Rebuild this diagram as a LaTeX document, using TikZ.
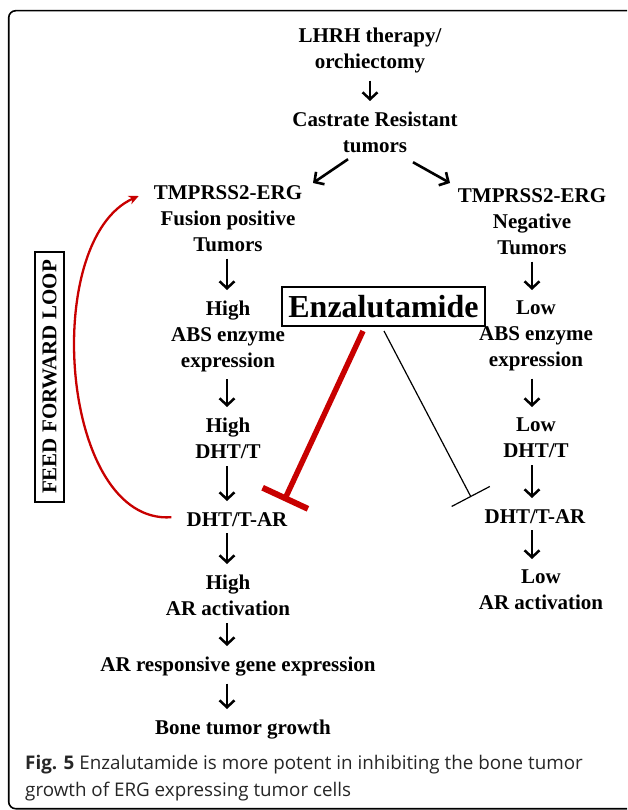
\documentclass[tikz,border=0pt]{standalone}
\usepackage{fontspec}
\setmainfont{Liberation Serif}
\newfontfamily\capfont{Open Sans}
\usetikzlibrary{arrows.meta}
\definecolor{looped}{RGB}{200,0,0}
\begin{document}
\begin{tikzpicture}[x=1pt,y=-1pt,
	txt/.style={align=center,inner sep=0pt,anchor=north,font=\bfseries\fontsize{21}{26}\selectfont},
	arr/.style={line width=2.5pt,-{Straight Barb[length=7pt,width=15pt]},shorten <=7pt,shorten >=11pt},
	arrd/.style={line width=2.6pt,-{Straight Barb[length=7pt,width=15pt]}},
	redinh/.style={draw=looped,line width=5.5pt,-{Bar[width=50pt,line width=6pt]}},
	blkinh/.style={line width=1.2pt,-{Bar[width=43pt]}},
	fflarc/.style={draw=looped,line width=2.3pt,-{Stealth[length=10pt,width=9pt]}}]
				\useasboundingbox (0,0) rectangle (627,810);
				\clip (0,0) rectangle (627,810);
				\draw[line width=1.6pt,rounded corners=7pt] (8.7,10.7) rectangle (690,808.7);
				% columns
				\coordinate (colT) at (370,0);
				\coordinate (colL) at (227,0);
				\coordinate (colR) at (532,0);
				\node[txt] (lhrh) at (370,28) {LHRH therapy/\\orchiectomy};
				\node[txt] (crt) at (375,112) {Castrate Resistant\\tumors};
				\node[txt] (tmpL) at (228,185) {TMPRSS2-ERG\\Fusion positive\\Tumors};
				\node[txt] (tmpR) at (532,188) {TMPRSS2-ERG\\Negative\\Tumors};
				\node[txt] (absL) at (228,301) {High\\ABS enzyme\\expression};
				\node[txt] (absR) at (536,301) {Low\\ABS enzyme\\expression};
				\node[txt] (dhtL) at (228,418) {High\\DHT/T};
				\node[txt] (dhtR) at (536,418) {Low\\DHT/T};
				\node[txt] (arL) at (237,512) {DHT/T-AR};
				\node[txt] (arR) at (535,509) {DHT/T-AR};
				\node[txt] (actL) at (228,575) {High\\AR activation};
				\node[txt] (actR) at (541,570) {Low\\AR activation};
				\node[txt] (gene) at (238,657) {AR responsive gene expression};
				\node[txt] (bone) at (243,720) {Bone tumor growth};
				\node[draw,line width=2pt,minimum width=203pt,minimum height=39pt,inner sep=0pt,font=\bfseries\fontsize{32}{36}\selectfont] (enza) at (383.5,306.5) {Enzalutamide};
				\node[draw,line width=1.5pt,rotate=90,minimum width=250pt,minimum height=29pt,inner sep=0pt,font=\bfseries\fontsize{21}{26}\selectfont] (ffl) at (49.5,377) {FEED FORWARD LOOP};
				% arrows
				\draw[arr] (lhrh.south -| colT) -- (crt.north -| colT);
				\draw[arrd] ([xshift=-27pt,yshift=-6pt]crt.south) -- ([xshift=85pt,yshift=2pt]tmpL.north);
				\draw[arrd] ([xshift=38pt,yshift=-9pt]crt.south) -- ([xshift=-82pt,yshift=5pt]tmpR.north);
				\draw[arr] (tmpL.south -| colL) -- (absL.north -| colL);
				\draw[arr] (absL.south -| colL) -- (dhtL.north -| colL);
				\draw[arr] (dhtL.south -| colL) -- (arL.north -| colL);
				\draw[arr] (arL.south -| colL) -- (actL.north -| colL);
				\draw[arr] (actL.south -| colL) -- (gene.north -| colL);
				\draw[arr] (gene.south -| colL) -- (bone.north -| colL);
				\draw[arr] (tmpR.south -| colR) -- (absR.north -| colR);
				\draw[arr] (absR.south -| colR) -- (dhtR.north -| colR);
				\draw[arr] (dhtR.south -| colR) -- (arR.north -| colR);
				\draw[arr] (arR.south -| colR) -- (actR.north -| colR);
				% inhibition
				\coordinate (redbar) at (284,501);
				\coordinate (blkbar) at (471,497);
				\draw[redinh] ([xshift=-20.5pt,yshift=-4pt]enza.south) -- (redbar);
				\draw[blkinh] ([xshift=0.5pt,yshift=-4pt]enza.south) -- (blkbar);
				\draw[fflarc] ([xshift=-15pt,yshift=2pt]arL.west) .. controls (60,525) and (40,240) .. ([xshift=-15pt,yshift=-11pt]tmpL.north west);
				\node[anchor=base west,align=left,inner sep=0pt,text=black!85,font=\capfont\fontsize{18.8}{27}\selectfont] (cap) at (25,796) {\textbf{Fig. 5} Enzalutamide is more potent in inhibiting the bone tumor\\growth of ERG expressing tumor cells};
			\end{tikzpicture}
\end{document}
